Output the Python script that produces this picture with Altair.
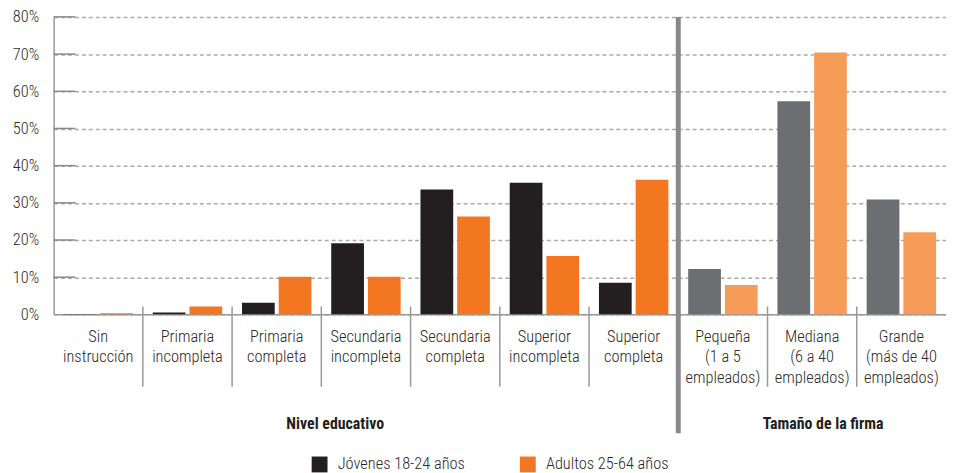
import altair as alt
import pandas as pd

FONT = "Roboto Condensed, DejaVu Sans Condensed, Liberation Sans Narrow, sans-serif"

categorias = [
    "Sin\ninstrucción", "Primaria\nincompleta", "Primaria\ncompleta",
    "Secundaria\nincompleta", "Secundaria\ncompleta", "Superior\nincompleta",
    "Superior\ncompleta", "Pequeña\n(1 a 5\nempleados)",
    "Mediana\n(6 a 40\nempleados)", "Grande\n(más de 40\nempleados)",
]
grupos = ["edu"] * 7 + ["firma"] * 3
series = ["Jóvenes 18-24 años", "Adultos 25-64 años"]
jovenes = [0.1, 0.5, 3.1, 19.1, 33.6, 35.4, 8.5, 12.2, 57.3, 30.9]
adultos = [0.3, 2.1, 10.1, 10.1, 26.3, 15.7, 36.2, 7.9, 70.4, 22.1]
colores_edu = ["#231f20", "#f37721"]
colores_firma = ["#6d6e71", "#f79b58"]
ticks_y = [0, 10, 20, 30, 40, 50, 60, 70, 80]
titulos_grupo = ["Nivel educativo", "Tamaño de la firma"]

rows = []
for i, c in enumerate(categorias):
    for s, vals in zip(series, [jovenes, adultos]):
        key = s if grupos[i] == "edu" else s + " (firma)"
        rows.append({"cat": c, "serie": s, "key": key, "valor": vals[i]})
df = pd.DataFrame(rows)

color_domain = series + [s + " (firma)" for s in series]
color_range = colores_edu + colores_firma

x_scale = alt.Scale(paddingInner=0, paddingOuter=0)
y_scale = alt.Scale(domain=[0, 80])

x_axis = alt.Axis(
    title=None, labelAngle=0, labelExpr="split(datum.label, '\\n')",
    labelFont=FONT, labelFontSize=16.5, labelLineHeight=21, labelColor="#2a2a2a",
    labelFontWeight=300,
    labelPadding=14, ticks=False, tickSize=0, labelOverlap=False,
    domainColor="#999999", domainWidth=1.5,
)
y_axis = alt.Axis(
    title=None, values=ticks_y, labelExpr="datum.value + '%'",
    labelFont=FONT, labelFontSize=16.5, labelColor="#2a2a2a", labelFontWeight=300,
    labelPadding=15, ticks=False, grid=True, gridDash=[4, 3],
    gridColor="#aaaaaa", gridWidth=1.5, labelOverlap=False,
    domainColor="#999999", domainWidth=1.5,
)

bars = alt.Chart(df).mark_bar().encode(
    x=alt.X("cat:N", sort=categorias, scale=x_scale, axis=x_axis),
    xOffset=alt.XOffset("serie:N", sort=series,
                        scale=alt.Scale(paddingInner=0.108, paddingOuter=0.27)),
    y=alt.Y("valor:Q", scale=y_scale, axis=y_axis),
    color=alt.Color(
        "key:N", scale=alt.Scale(domain=color_domain, range=color_range),
        legend=alt.Legend(
            values=series, title=None, orient="none", legendX=260, legendY=443,
            direction="horizontal", columns=2, symbolType="square",
            symbolSize=256, symbolStrokeWidth=0, labelFont=FONT,
            labelFontSize=16.5, labelFontWeight=300, labelColor="#2a2a2a",
            labelOffset=10, columnPadding=55, padding=0,
        ),
    ),
)

# short solid segments at the start of each gridline
tick_df = pd.DataFrame({"valor": ticks_y[1:]})
short_ticks = alt.Chart(tick_df).mark_rule(color="#888888", strokeWidth=1.5).encode(
    y=alt.Y("valor:Q", scale=y_scale, axis=y_axis), x=alt.value(0), x2=alt.value(22)
)

# thin separators between categories
sep_df = pd.DataFrame({"cat": categorias[1:]})
separators = alt.Chart(sep_df).mark_rule(color="#999999", strokeWidth=1.5).encode(
    x=alt.X("cat:N", sort=categorias, scale=x_scale, axis=x_axis, bandPosition=0),
    y=alt.value(292), y2=alt.value(373),
)

# thick separator between the two groups
thick_df = pd.DataFrame({"cat": [categorias[7]]})
thick = alt.Chart(thick_df).mark_rule(color="#88898b", strokeWidth=5).encode(
    x=alt.X("cat:N", sort=categorias, scale=x_scale, axis=x_axis, bandPosition=0),
    y=alt.value(0), y2=alt.value(420),
)

t1 = alt.Chart(pd.DataFrame({"t": [titulos_grupo[0]]})).mark_text(
    font=FONT, fontSize=16, fontWeight="bold", color="#231f20", baseline="middle"
).encode(text="t:N", x=alt.value(284), y=alt.value(411))
t2 = alt.Chart(pd.DataFrame({"t": [titulos_grupo[1]]})).mark_text(
    font=FONT, fontSize=16, fontWeight="bold", color="#231f20", baseline="middle"
).encode(text="t:N", x=alt.value(776), y=alt.value(411))

chart = alt.layer(bars, short_ticks, separators, thick, t1, t2).properties(
    width=900, height=300,
    autosize=alt.AutoSizeParams(type="none"),
    padding={"left": 46, "top": 7, "right": 0, "bottom": 158},
).configure_view(stroke=None)

chart.save("out.html", embed_options={"renderer": "svg", "actions": False})
